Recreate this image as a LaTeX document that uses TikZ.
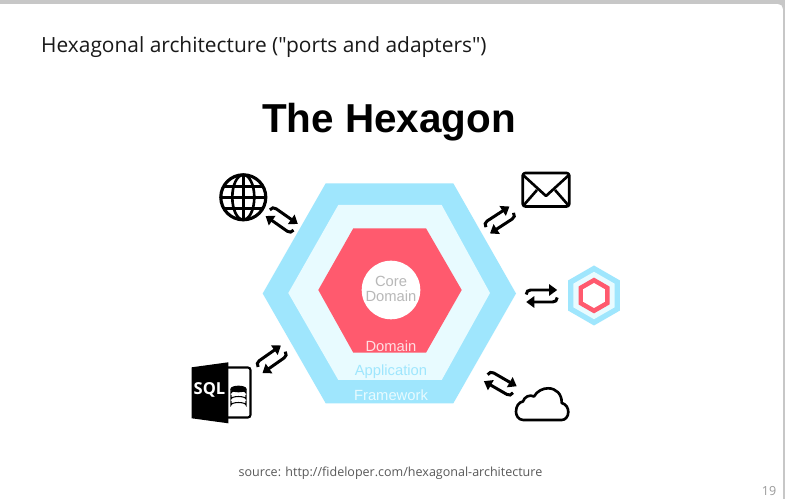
\documentclass[tikz,border=0pt]{standalone}
\usepackage{fontspec}
\setmainfont{Open Sans}[Ligatures=TeXOff]
\newfontfamily\titlefont{Liberation Sans}
\usetikzlibrary{arrows.meta}

\definecolor{hexouter}{HTML}{9FE6FD}
\definecolor{hexmiddle}{HTML}{E8FBFF}
\definecolor{hexinner}{HTML}{FF5A6E}

\begin{document}
\begin{tikzpicture}[
    x=0.02cm, y=-0.02cm,
    % one style per kind of label
    heading/.style  = {anchor=west, font=\fontsize{11.9}{14}\selectfont, text=black!90},
    bigtitle/.style = {font=\titlefont\fontsize{23}{27}\selectfont\bfseries},
    layer/.style    = {font=\titlefont\fontsize{8.4}{10}\selectfont},
    caption/.style  = {font=\fontsize{7.13}{9}\selectfont, text=black!65},
    swapline/.style = {line width=1.7pt, -{Triangle[length=4.6pt, width=6.4pt]}},
    iconline/.style = {draw=black, line width=1.5pt, line join=round},
  ]
  \useasboundingbox (0,0) rectangle (785,499);
  \fill[white] (0,0) rectangle (785,499);

  %% ---------- slide frame ----------
  \fill[black!22] (0,0) -- (785,0) -- (785,499) -- (783,499) -- (783,9)
    .. controls (783,6) and (781,4) .. (778,4) -- (0,4) -- cycle;

  \node[heading] (heading) at (35,47.5) {Hexagonal architecture ("ports and adapters")};
  \node[bigtitle] (title) at (389,122) {The Hexagon};

  %% ---------- the big hexagon ----------
  \fill[hexouter]  (262.7,293.5) -- (325.7,183.3) -- (453.3,183.3) -- (516,293.5) -- (453.3,403.3) -- (325.7,403.3) -- cycle;
  \fill[hexmiddle] (288.3,293) -- (338.3,205) -- (441.7,205) -- (490,293) -- (441.7,380) -- (338.3,380) -- cycle;
  \fill[hexinner]  (318.3,290) -- (353.3,228.3) -- (426,228.3) -- (461.7,290) -- (426,352.7) -- (353.3,352.7) -- cycle;
  \fill[white] (391,290) circle (29.3);

  \node[layer, text=black!28] (core) at (391,281.5) {Core};
  \node[layer, text=black!28] (coredomain) at (391,296.5) {Domain};
  \node[layer, text=white!80!hexinner] (domain) at (391,346) {Domain};
  \node[layer, text=hexouter] (application) at (391,372) {Application};
  \node[layer, text=hexmiddle] (framework) at (391,395.5) {Framework};

  %% ---------- double arrows round the hexagon ----------
  \foreach \port/\cx/\cy/\turn in {
    web/281.7/220/-35, mail/499.7/220/33, hexport/541.7/296/0,
    cloud/500.3/383.7/-30, sql/271.7/359.3/35
  } {
    \begin{scope}[shift={(\cx,\cy)}, rotate=\turn]
      \foreach \side/\sgn in {a/1, b/-1} {
        \coordinate (\port-\side-tail) at ({\sgn*(-15.5)},{\sgn*(-1.5)});
        \coordinate (\port-\side-knee) at ({\sgn*(-11)},{\sgn*(-6)});
        \coordinate (\port-\side-tip)  at ({\sgn*(15.5)},{\sgn*(-6)});
        \draw[swapline] (\port-\side-tail) .. controls +({\sgn*0},{\sgn*(-3)}) and +({\sgn*(-2.5)},{\sgn*0}) .. (\port-\side-knee) -- (\port-\side-tip);
      }
    \end{scope}
  }

  %% ---------- globe ----------
  \begin{scope}[shift={(243.3,197.3)}]
    \draw[iconline, line width=1.8pt] (0,0) circle (22.5);
    \draw[iconline] (0,0) ellipse (11 and 22.5);
    \draw[iconline] (0,-22.5) -- (0,22.5);
    \draw[iconline] (-22.5,0) -- (22.5,0);
    \draw[iconline] (-19.6,-11) -- (19.6,-11);
    \draw[iconline] (-19.6,11) -- (19.6,11);
  \end{scope}

  %% ---------- envelope ----------
  \draw[iconline, rounded corners=1.5] (522.7,173) rectangle (569.3,206.5);
  \draw[iconline] (523,175) -- (546,196) -- (569,175);
  \draw[iconline] (523,206) -- (537,190);
  \draw[iconline] (569,206) -- (555,190);

  %% ---------- small hexagon ----------
  \foreach \rad/\col in {30/hexouter, 23.7/hexmiddle, 17.9/hexinner, 12.5/white} {
    \fill[\col] (594,295.5) +(90:\rad) -- +(150:\rad) -- +(210:\rad) -- +(270:\rad) -- +(330:\rad) -- +(30:\rad) -- cycle;
  }

  %% ---------- cloud ----------
  \draw[iconline] (523.3,420) .. controls (518,420) and (516,415) .. (516,411.7)
    .. controls (516,406) and (519,402) .. (523,401.5)
    .. controls (524,397) and (530,394) .. (534,396.5)
    .. controls (537,391) and (543,388.3) .. (548,388.3)
    .. controls (556,388.3) and (562,394) .. (561.7,403)
    .. controls (566,404) and (568.3,408) .. (568.3,412)
    .. controls (568.3,417) and (565,420) .. (561.7,420) -- cycle;

  %% ---------- SQL file ----------
  \draw[black, line width=1.2pt, rounded corners=1.5] (228,367.5) -- (250.5,367.5) -- (250.5,417.5) -- (228,417.5);
  \fill[black] (191.7,367.3) -- (228.3,362.3) -- (228.3,423.3) -- (191.7,418.3) -- cycle;
  \node[font=\fontsize{9.4}{12}\selectfont\bfseries, text=white, inner sep=0pt] (sqllabel) at (209.5,390) {SQL};
  \begin{scope}[shift={(238.5,395)}]
    \foreach \yy in {-6,0,6} {
      \draw[black, line width=0.6pt] (-7.5,\yy) -- (-7.5,\yy+4) arc (180:360:7.5 and 2.5) -- (7.5,\yy);
    }
    \draw[black, line width=0.6pt, fill=black] (0,-6) ellipse (7.5 and 2.8);
  \end{scope}

  %% ---------- footer ----------
  \node[caption] (source) at (390.5,473) {source: http://fideloper.com/hexagonal-architecture};
  \node[caption, text=black!40] (pagenum) at (769,491.5) {19};
\end{tikzpicture}
\end{document}
